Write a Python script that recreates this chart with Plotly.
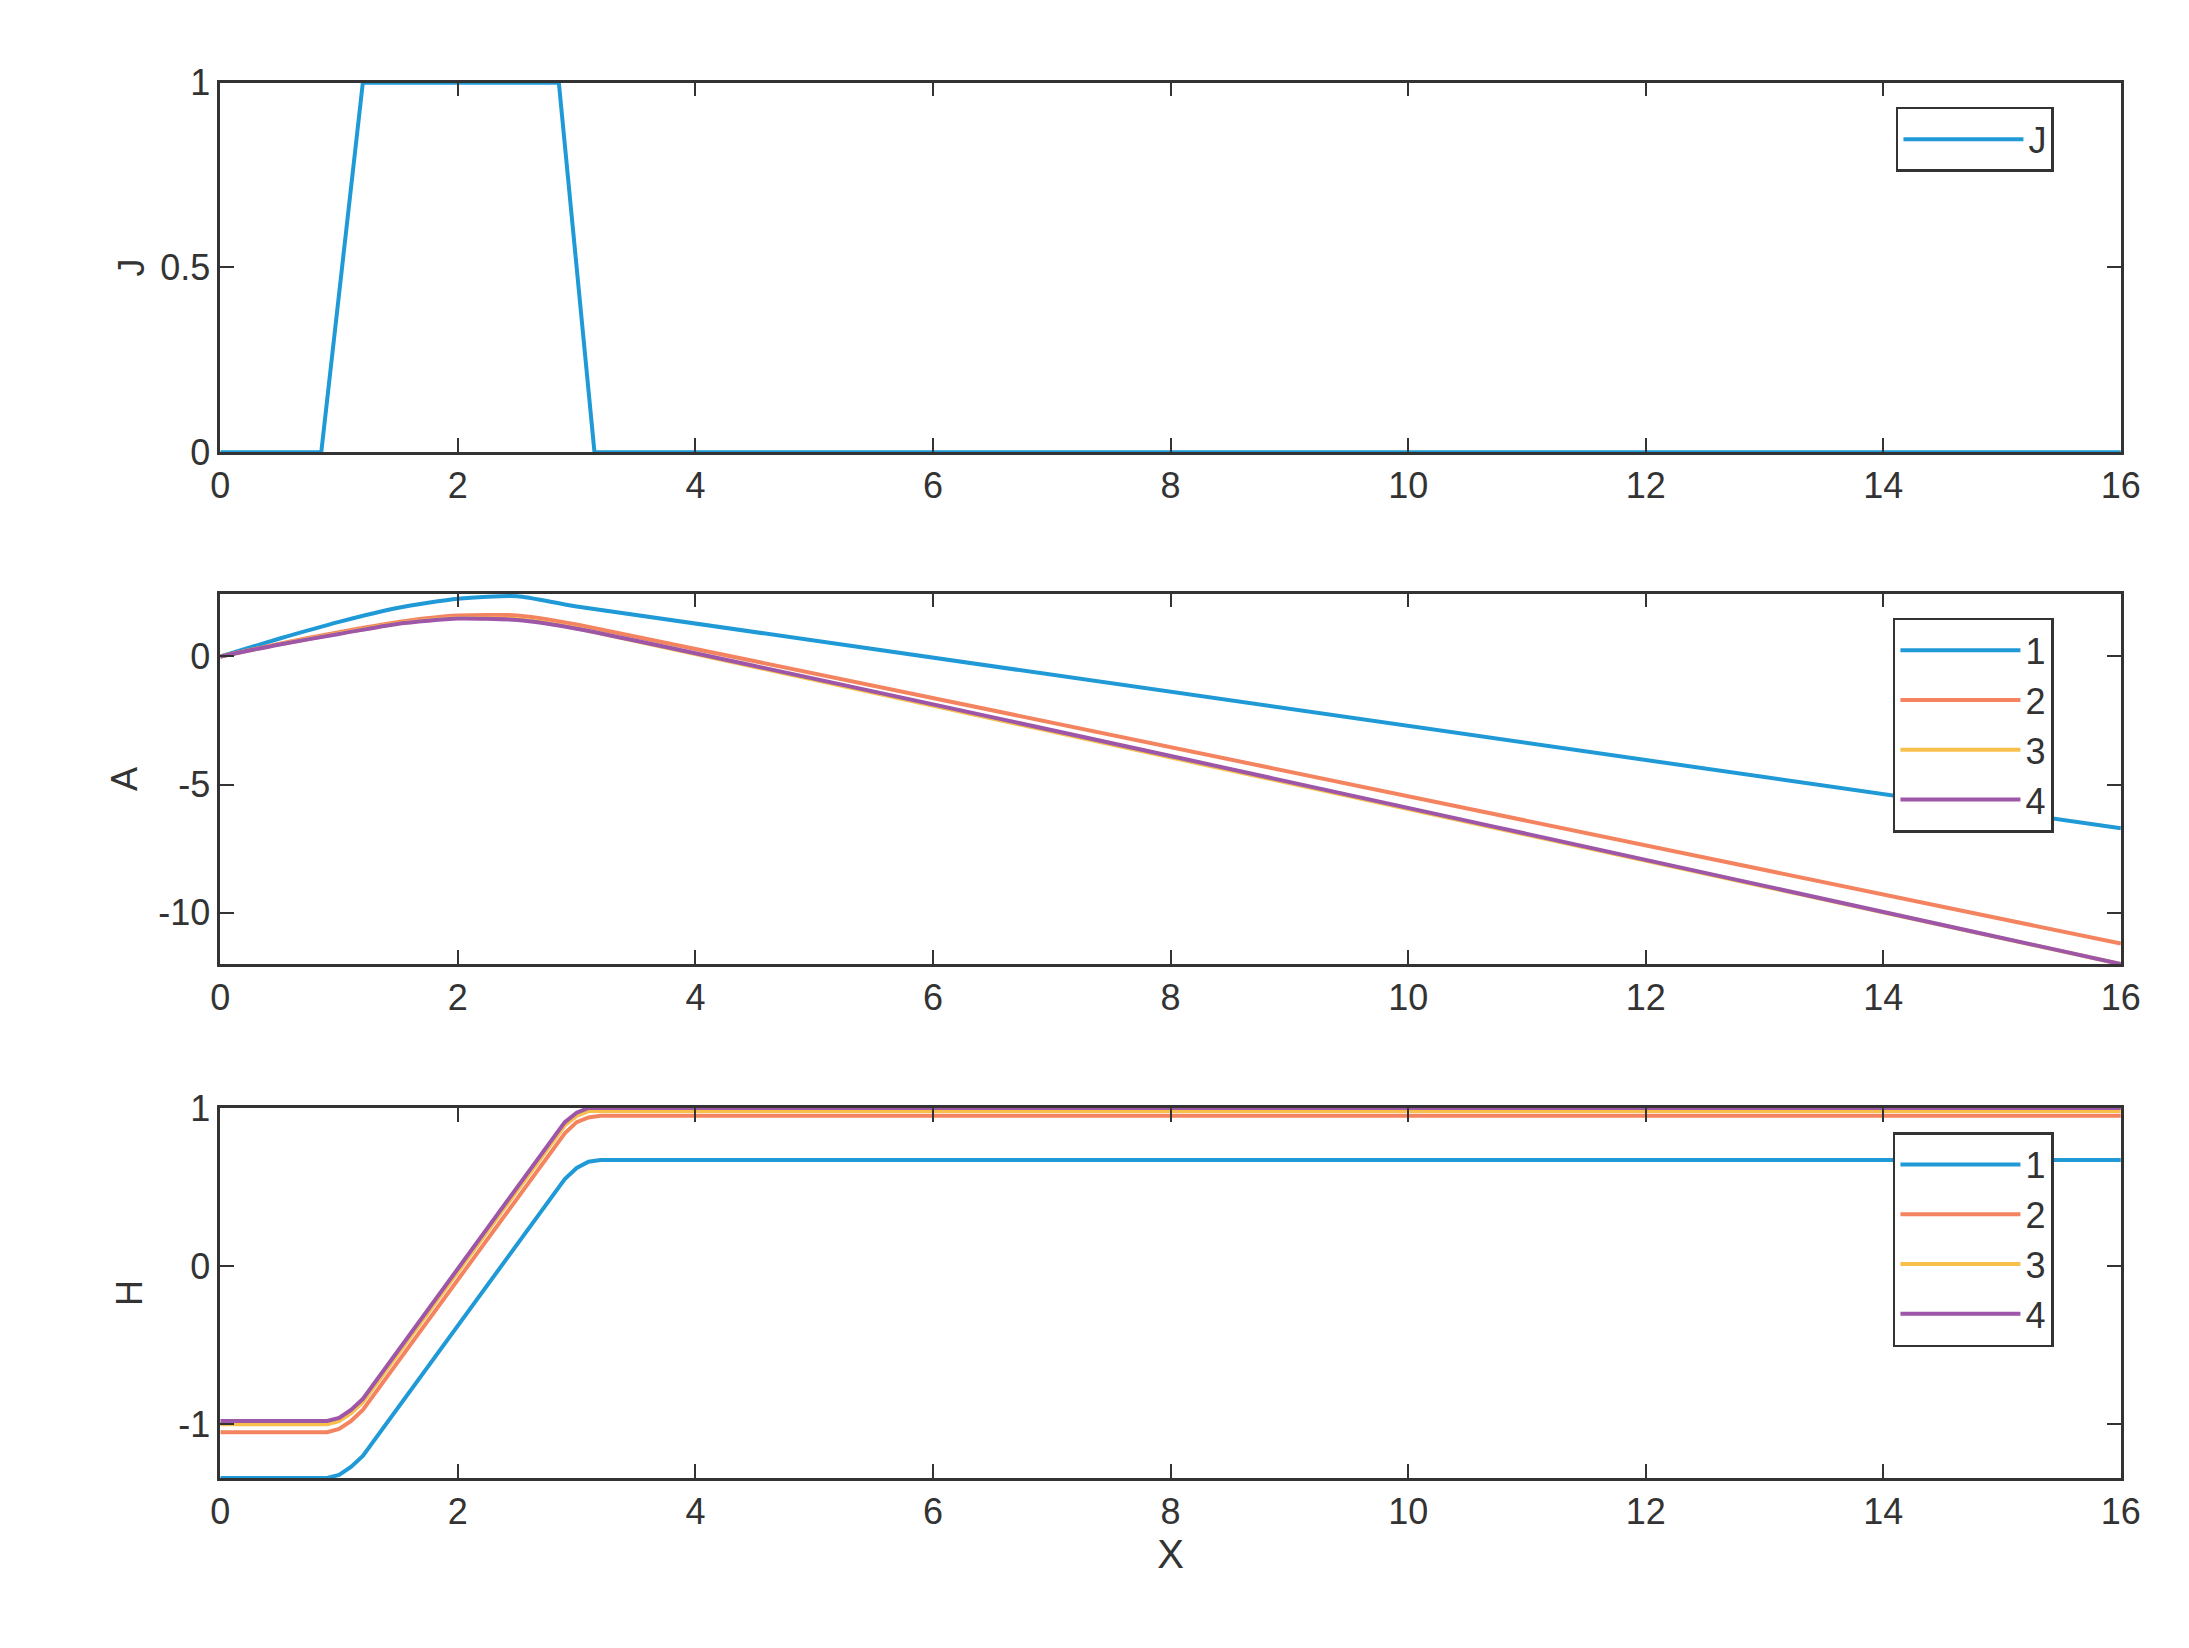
import plotly.graph_objects as go

# ---- data ----
j_x = [0, 0.85, 1.2, 2.85, 3.15, 16]
j_y = [0, 0, 1, 1, 0, 0]

a_x = [0, 0.5, 1, 1.5, 2, 2.5, 3, 16]
a1 = [0, 0.7, 1.35, 1.9, 2.25, 2.35, 1.95, -6.7]
a2 = [0, 0.5, 0.95, 1.35, 1.6, 1.6, 1.25, -11.2]
a3 = [0, 0.48, 0.9, 1.3, 1.5, 1.45, 1.1, -12.0]
a4 = [0, 0.47, 0.88, 1.28, 1.48, 1.42, 1.08, -12.0]

h_x = [0, 0.9, 1.0, 1.1, 1.2, 2.9, 3.0, 3.1, 3.2, 16]
h1 = [-1.34, -1.34, -1.32, -1.27, -1.2, 0.55, 0.62, 0.66, 0.67, 0.67]
h2 = [-1.05, -1.05, -1.03, -0.98, -0.91, 0.84, 0.91, 0.94, 0.95, 0.95]
h3 = [-1.0, -1.0, -0.98, -0.93, -0.86, 0.89, 0.95, 0.98, 0.98, 0.98]
h4 = [-0.98, -0.98, -0.96, -0.91, -0.84, 0.91, 0.97, 1.0, 1.0, 1.0]

names = ["1", "2", "3", "4"]
colors = ["#1f9ad6", "#f4845f", "#f7c04a", "#9e56a8"]

fig = go.Figure()
fig.add_trace(go.Scatter(x=j_x, y=j_y, mode="lines", name="J", line=dict(color=colors[0], width=4),
                         xaxis="x", yaxis="y", legend="legend", cliponaxis=False, showlegend=True))
for n, c, ys in zip(names, colors, [a1, a2, a3, a4]):
    fig.add_trace(go.Scatter(x=a_x, y=ys, mode="lines", name=n, line=dict(color=c, width=4, shape="spline", smoothing=0.6),
                             xaxis="x2", yaxis="y2", legend="legend2"))
for n, c, ys in zip(names, colors, [h1, h2, h3, h4]):
    fig.add_trace(go.Scatter(x=h_x, y=ys, mode="lines", name=n, line=dict(color=c, width=4),
                             xaxis="x3", yaxis="y3", legend="legend3", cliponaxis=False))

font = dict(family="Liberation Sans, Arial", size=36, color="#333333")
axcommon = dict(showgrid=False, zeroline=False, showline=True, linecolor="#333333", linewidth=2.5,
                mirror="ticks", ticks="inside", ticklen=14, tickwidth=2, tickcolor="#333333", tickfont=font)
xdom = [0.0937, 0.974]
doms = [[0.736, 0.966], [0.4175, 0.648], [0.0977, 0.328]]
xt = dict(range=[0, 16], tickvals=list(range(0, 17, 2)), domain=xdom, **axcommon)

leg = dict(xanchor="right", x=0.943, yanchor="top", bgcolor="white", bordercolor="#333333", borderwidth=2.5,
           font=font, itemwidth=120, tracegroupgap=0)
fig.update_layout(
    width=2189, height=1648, margin=dict(l=0, r=0, t=0, b=0),
    plot_bgcolor="white", paper_bgcolor="white", font=font,
    xaxis=dict(anchor="y", **xt),
    xaxis2=dict(anchor="y2", **xt),
    xaxis3=dict(anchor="y3", title=dict(text="X", font=dict(family=font["family"], size=40, color="#333333"), standoff=10), **xt),
    yaxis=dict(anchor="x", domain=doms[0], range=[0, 1], tickvals=[0, 0.5, 1], ticktext=["0", "0.5", "1"],
               title=dict(text="J", font=font, standoff=5), **axcommon),
    yaxis2=dict(anchor="x2", domain=doms[1], range=[-12, 2.45], tickvals=[-10, -5, 0], ticktext=["-10", "-5", "0"],
                title=dict(text="A", font=font, standoff=10), **axcommon),
    yaxis3=dict(anchor="x3", domain=doms[2], range=[-1.34, 1.0], tickvals=[-1, 0, 1], ticktext=["-1", "0", "1"],
                title=dict(text="H", font=font, standoff=25), **axcommon),
    legend=dict(y=0.951, **leg),
    legend2=dict(y=0.633, **leg),
    legend3=dict(y=0.313, **leg),
)
fig.write_html("out.html")
